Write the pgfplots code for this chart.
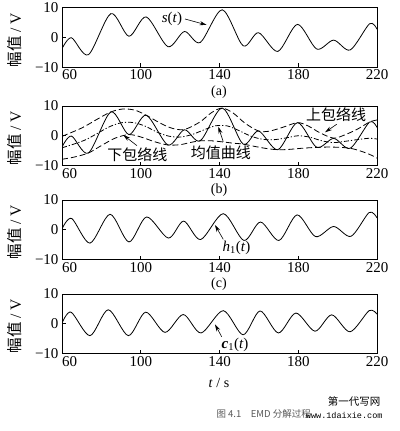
\documentclass[border=0pt]{standalone}
\usepackage{fontspec}
\setmainfont{Liberation Serif}
\setmonofont{Liberation Mono}
\newfontfamily\cjk{Noto Sans CJK SC}
\usepackage{pgfplots}
\pgfplotsset{compat=1.18}
\usetikzlibrary{arrows.meta}

\pgfplotstableread{
t v
60 -3.8
64.8 -0.1
73.4 -5.8
84.8 8.0
94 0.4
102.8 6.9
113.8 -3.1
122.2 2.0
130.2 -1.7
141.4 9.3
152 -2.8
159.8 1.6
169.6 -4.7
179.6 4.4
189.4 -3.9
198 -0.9
206.4 -4.2
216.2 4.6
220 2.8
}\sdata

\pgfplotstableread{
t v
60 -0.2
70 2.6
78 5.6
84.8 8.0
91 9.0
97 8.6
102.8 6.9
110 4.2
116 2.5
122.2 2.1
130 4.6
136 7.8
141.4 9.3
147 7.6
153 4.2
159.8 1.6
165 1.5
172 2.8
179.6 4.4
185 3.3
191 1.0
198 -0.8
204 0.4
210 2.2
216.2 4.6
220 5.3
}\updata

\pgfplotstableread{
t v
60 -7.9
66 -7.2
73.4 -5.8
80 -3.3
87 -0.8
94 0.4
100 -0.4
107 -2.0
113.8 -3.1
120 -3.0
125 -2.3
130.2 -1.7
136 -1.7
142 -2.1
147 -2.5
152 -2.8
158 -3.6
164 -4.3
169.6 -4.7
175 -4.6
182 -4.2
189.4 -3.9
196 -3.8
201 -3.9
206.4 -4.2
211 -5.0
216 -6.2
220 -7.5
}\lodata

\pgfplotstableread{
t v
60 -4.05
66 -2.8
72 -1.35
78 0.8
84 3.0
90 4.35
96 4.45
102 3.3
108 1.3
114 -0.1
120 -0.45
126 0.4
132 1.95
138 3.35
144 3.3
150 1.7
156 -0.15
162 -1.2
168 -1.3
174 -0.7
180 0
186 -0.5
192 -1.7
198 -2.3
204 -1.85
210 -1.3
216 -0.85
220 -1.1
}\meandata

\pgfplotstableread{
t v
60 0.3
64.9 3.8
74.2 -4.5
84.4 5.2
94 -4.1
103 4.3
114 -2.8
121.8 2.9
130.4 -3.3
141.9 5.4
152.4 -3.6
160.8 2.6
170.2 -3.6
179.4 5.0
188.8 -2.3
198 1.1
206.8 -2.2
216 5.8
220 4.0
}\hdata

\pgfplotstableread{
t v
60 0.2
64.6 3.9
74.2 -4.0
83.5 4.7
93.7 -4.0
102.5 3.9
112.3 -2.9
121.6 3.1
130.6 -3.1
141.9 4.4
152 -3.7
160.6 4.3
169.9 -3.1
178.8 3.6
188.5 -2.5
197 3.0
206.3 -2.7
216 4.4
220 3.2
}\cdata

\pgfplotsset{panel/.style={
  scale only axis, width=315pt, height=59.5pt,
  anchor=north west,
  xmin=60, xmax=220, ymin=-10, ymax=10,
  xtick={60,100,140,180,220}, xticklabels={\phantom{00}60,100,140,180,220},
  ytick={-10,0,10}, yticklabels={−10,0,10},
  tick align=inside, xtick pos=left, ytick pos=left,
  major tick length=4pt,
  tick style={black, line width=0.6pt},
  axis line style={line width=0.7pt},
  ticklabel style={font=\fontsize{15}{15}\selectfont},
  yticklabel style={xshift=0pt},
  xticklabel style={yshift=1pt},
  clip mode=individual,
  cycle list={{black}},
  every axis plot/.append style={line width=0.8pt, black, smooth, no marks},
}}
\tikzset{ann/.style={-{Stealth[length=7pt,width=4pt]}, line width=0.6pt}}

\begin{document}
\begin{tikzpicture}
\path[use as bounding box] (0,0) rectangle (399pt,-431pt);

% (a)
\begin{axis}[panel, at={(62pt,-7.7pt)}]
\addplot[black] table[x=t,y=v] {\sdata};
\node[font=\fontsize{15}{15}\selectfont] at (axis cs:115.9,6.4) {\textit{s}(\textit{t})};
\draw[ann] (axis cs:122.5,6.2) -- (axis cs:133.5,4.2);
\end{axis}

% (b)
\begin{axis}[panel, at={(62pt,-106pt)}]
\addplot[black] table[x=t,y=v] {\sdata};
\addplot[black, dash pattern=on 6pt off 3pt] table[x=t,y=v] {\updata};
\addplot[black, dash pattern=on 6pt off 3pt] table[x=t,y=v] {\lodata};
\addplot[black, dash pattern=on 5pt off 2pt on 1.2pt off 2pt] table[x=t,y=v] {\meandata};
\node[font=\cjk\fontsize{15}{15}\selectfont] at (axis cs:199.2,7.0) {上包络线};
\draw[ann] (axis cs:199.5,3.85) -- (axis cs:193.6,1.16);
\node[font=\cjk\fontsize{15}{15}\selectfont] at (axis cs:98.3,-6.47) {下包络线};
\draw[ann] (axis cs:98.1,-3.34) -- (axis cs:91.1,0.25);
\node[font=\cjk\fontsize{15}{15}\selectfont] at (axis cs:140.75,-5.8) {均值曲线};
\draw[ann] (axis cs:141.9,-2.0) -- (axis cs:139.4,3.04);
\end{axis}

% (c)
\begin{axis}[panel, at={(62pt,-200pt)}]
\addplot[black] table[x=t,y=v] {\hdata};
\node[font=\fontsize{15}{15}\selectfont] at (axis cs:148.6,-6.13) {\textit{h}\textsubscript{1}(\textit{t})};
\draw[ann] (axis cs:141.9,-3.2) -- (axis cs:137.7,1.6);
\end{axis}

% (d)
\begin{axis}[panel, at={(62pt,-294pt)}]
\addplot[black] table[x=t,y=v] {\cdata};
\node[font=\fontsize{15}{15}\selectfont] at (axis cs:147.9,-7.1) {\textbf{\textit{c}}\textsubscript{1}(\textit{t})};
\draw[ann] (axis cs:141.1,-4.35) -- (axis cs:137.7,-0.2);
\end{axis}

% y labels
\foreach \yc in {40,138,232,326}{
  \node[rotate=90, font=\fontsize{15.5}{15.5}\selectfont] at (15pt,-\yc pt) {{\cjk 幅值} / V};
}
% sub-captions
\node[font=\fontsize{14}{14}\selectfont] at (219pt,-92pt) {(a)};
\node[font=\fontsize{14}{14}\selectfont] at (219pt,-190pt) {(b)};
\node[font=\fontsize{14}{14}\selectfont] at (219pt,-284.5pt) {(c)};
\node[font=\fontsize{14}{14}\selectfont] at (219pt,-383pt) {\textit{t} / s};
% caption and watermark
\node[font=\cjk\fontsize{9.5}{9.5}\selectfont, text=black!65, anchor=west] at (213pt,-414pt) {图 4.1\quad EMD 分解过程};
\node[font=\cjk\fontsize{10.5}{10.5}\selectfont, anchor=east] at (384pt,-401pt) {第一代写网};
\node[font=\ttfamily\fontsize{8.5}{8.5}\selectfont, anchor=east] at (386pt,-415pt) {www.1daixie.com};
\end{tikzpicture}
\end{document}
